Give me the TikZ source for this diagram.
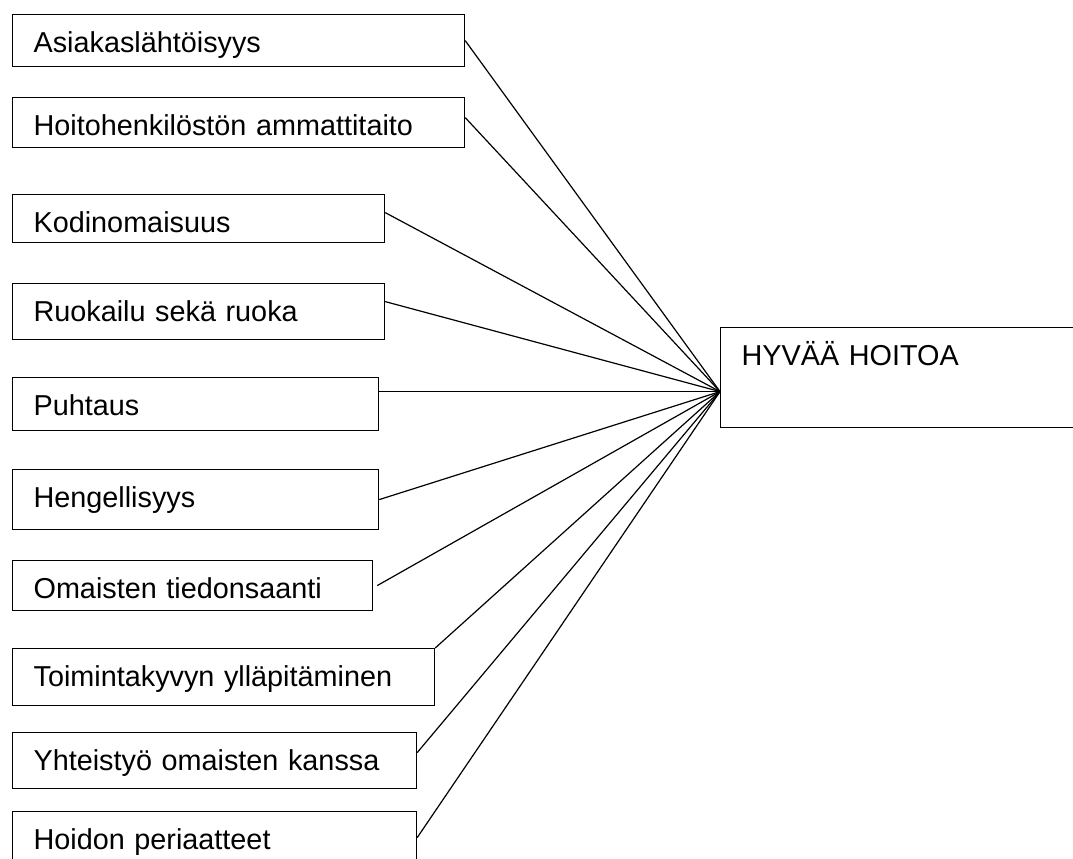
\documentclass[tikz,border=0pt]{standalone}
\usepackage{fontspec}
\setmainfont{Liberation Sans}
\usetikzlibrary{positioning}

\begin{document}
\begin{tikzpicture}[x=0.75pt, y=-0.75pt, line width=0.9pt,
        factor/.style={draw, anchor=north west, align=left, inner xsep=15.75pt, inner ysep=0pt,
            text height=28.5pt, font=\fontsize{21.6}{25}\selectfont}]
        \useasboundingbox (0, 0) rectangle (1073, 859);
        \clip (0, 0) rectangle (1073, 859);

        \node [factor, text width=307.5pt, text depth=10.5pt] (f1) at (12, 14) {Asiakaslähtöisyys};
        \node [factor, text width=307.5pt, text depth=9pt] (f2) at (12, 97) {Hoitohenkilöstön ammattitaito};
        \node [factor, text width=247.5pt, text depth=7.5pt] (f3) at (12, 194) {Kodinomaisuus};
        \node [factor, text width=247.5pt, text depth=13.5pt] (f4) at (12, 283) {Ruokailu sekä ruoka};
        \node [factor, text width=243pt, text depth=11.25pt] (f5) at (12, 377) {Puhtaus};
        \node [factor, text width=243pt, text depth=16.5pt] (f6) at (12, 469) {Hengellisyys};
        \node [factor, text width=238.5pt, text depth=9pt] (f7) at (12, 560) {Omaisten tiedonsaanti};
        \node [factor, text width=285pt, text depth=14.25pt] (f8) at (12, 648) {Toimintakyvyn ylläpitäminen};
        \node [factor, text width=271.5pt, text depth=13.5pt] (f9) at (12, 732) {Yhteistyö omaisten kanssa};
        \node [factor, text width=271.5pt, text depth=10.5pt] (f10) at (12, 811) {Hoidon periaatteet};

        \node [factor, text width=238.5pt, text depth=46.5pt] (hub) at (720, 327) {HYVÄÄ HOITOA};
        \coordinate (joint) at ([yshift=-10.5pt]hub.west);

        \draw (f1.east) -- (joint);
        \draw ([yshift=3.75pt]f2.east) -- (joint);
        \draw ([yshift=4.5pt]f3.east) -- (joint);
        \draw ([yshift=7.5pt]f4.east) -- (joint);
        \draw (f5.east |- joint) -- (joint);
        \draw (f6.east) -- (joint);
        \draw ([xshift=3pt]f7.east) -- (joint);
        \draw (f8.north east) -- (joint);
        \draw ([yshift=6pt]f9.east) -- (joint);
        \draw (f10.east) -- (joint);
    \end{tikzpicture}
\end{document}
